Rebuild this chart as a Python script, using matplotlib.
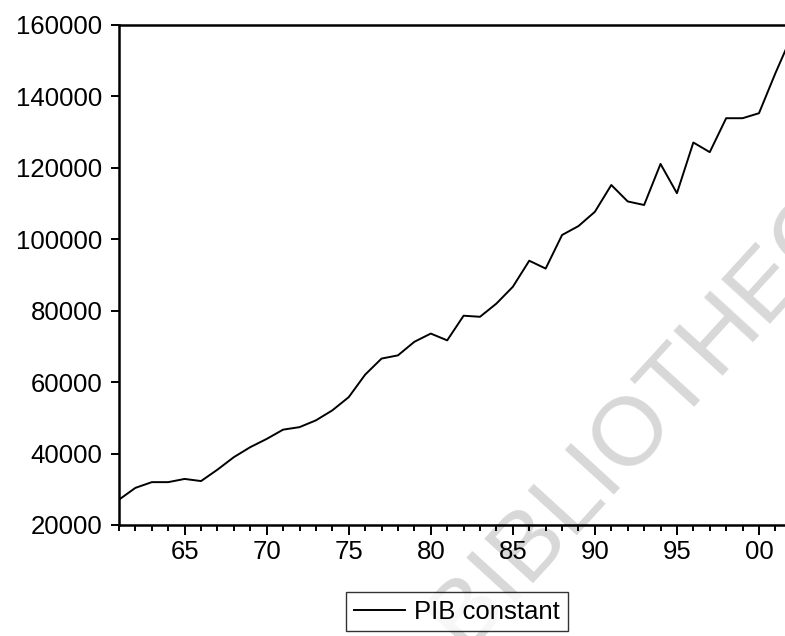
import matplotlib
matplotlib.use("Agg")
import matplotlib.pyplot as plt
from matplotlib.ticker import MultipleLocator, FixedLocator

plt.rcParams['font.family'] = ['Liberation Sans', 'DejaVu Sans']

# PIB constant, yearly 1961-2002
years = list(range(1961, 2003))
pib = [27100, 30400, 32000, 32000, 32900, 32300, 35500, 39000, 41800, 44100,
       46700, 47400, 49300, 52100, 55800, 62100, 66600, 67500, 71300, 73600,
       71700, 78600, 78300, 82000, 86700, 94000, 91800, 101200, 103700, 107700,
       115200, 110600, 109600, 121100, 112900, 127100, 124400, 133900, 133900, 135300,
       146500, 157000]

major_years = [1965, 1970, 1975, 1980, 1985, 1990, 1995, 2000]
major_labels = ["65", "70", "75", "80", "85", "90", "95", "00"]
y_ticks = [20000, 40000, 60000, 80000, 100000, 120000, 140000, 160000]

fig = plt.figure(figsize=(7.85, 6.36), dpi=100)
# axes runs a little past the right edge: the scan is cropped there
ax = fig.add_axes([119/785, 1 - 525/636, 672.8/785, 500/636])
ax.set_zorder(1)
ax.patch.set_alpha(0)

# library watermark of the scanned page, under everything
fig.text(464/785, 1 - 651/636, "BIBLIOTHEQUE", fontsize=70, color="#d8d8d8",
         rotation=47.6, rotation_mode="anchor", ha="left", va="baseline", zorder=0)

ax.plot(years, pib, color="black", lw=1.4, label="PIB constant", zorder=3)

ax.set_xlim(1961, 2002)
ax.set_ylim(20000, 160000)
ax.xaxis.set_major_locator(FixedLocator(major_years))
ax.set_xticklabels(major_labels)
ax.xaxis.set_minor_locator(MultipleLocator(1))
ax.set_yticks(y_ticks)
ax.set_yticklabels([str(v) for v in y_ticks])

for s in ["left", "top", "bottom"]:
    ax.spines[s].set_linewidth(1.8)
ax.spines["right"].set_visible(False)

ax.tick_params(axis="both", which="both", direction="out", width=1.4,
               labelsize=18.5, colors="black")
ax.tick_params(axis="x", which="major", length=7, pad=4)
ax.tick_params(axis="x", which="minor", length=4)
ax.tick_params(axis="y", which="major", length=6, pad=6)

leg = fig.legend(loc="upper center", bbox_to_anchor=(457/785, 1 - 592/636),
                 fontsize=18.5, frameon=True, fancybox=False, handlelength=2.0,
                 handletextpad=0.35, borderpad=0.3, borderaxespad=0)
leg.get_frame().set_edgecolor("black")
leg.get_frame().set_linewidth(1.0)

fig.savefig("out.png", dpi=100)
